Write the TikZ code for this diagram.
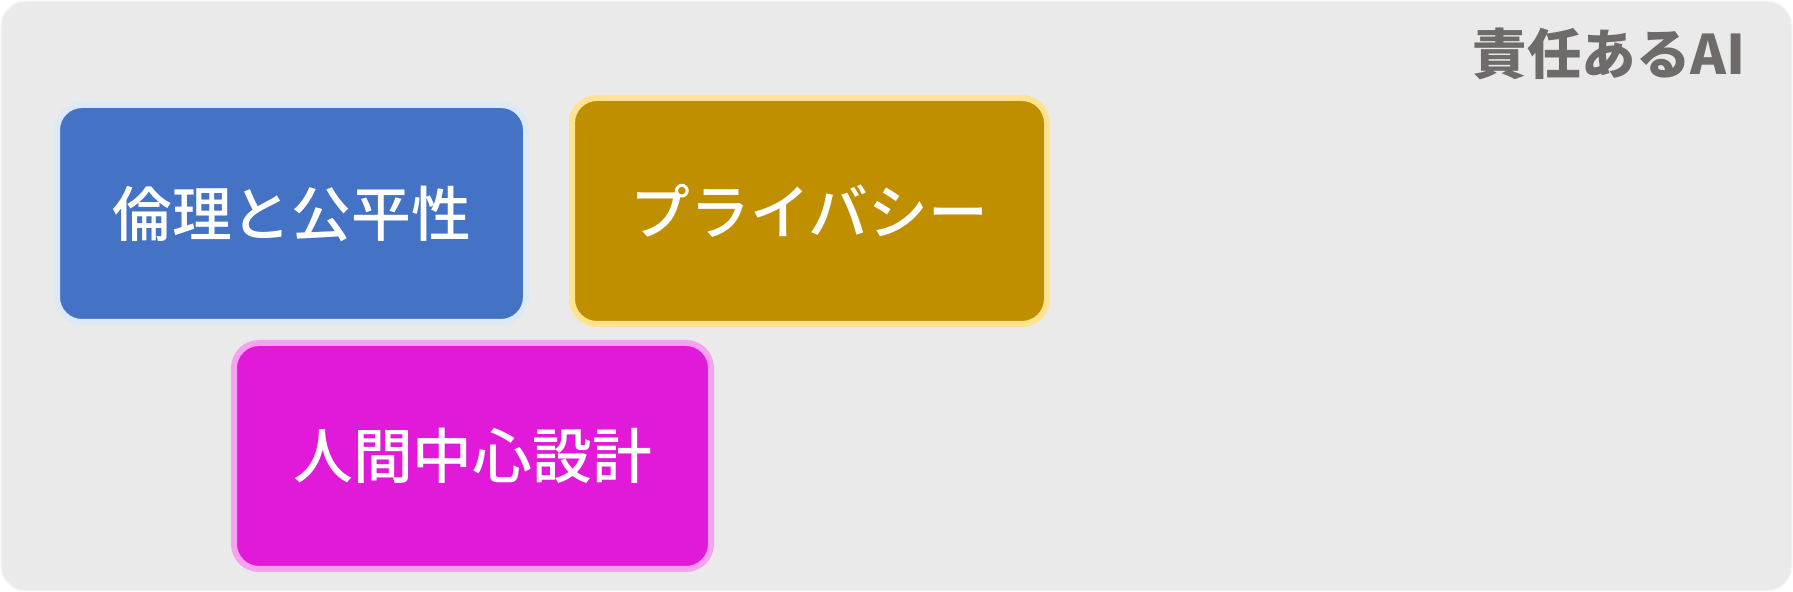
\documentclass[tikz,border=0pt]{standalone}
\usepackage{fontspec}
\setmainfont{Noto Sans CJK JP}
\newfontfamily\boxfont{Noto Sans CJK JP Medium}
\usetikzlibrary{positioning}
\definecolor{canvas}{HTML}{EAEAEA}
\definecolor{ethicsblue}{HTML}{4472C4}
\definecolor{ethicsglow}{HTML}{DCEAF8}
\definecolor{privgold}{HTML}{BF8F00}
\definecolor{privglow}{HTML}{FFE38F}
\definecolor{humanpink}{HTML}{E01AD8}
\definecolor{humanglow}{HTML}{F7A2F0}
\definecolor{titlegray}{HTML}{6E6B6A}

\begin{document}
\begin{tikzpicture}
    \tikzstyle{topic}=[rectangle, rounded corners=0.25cm, line width=0.6mm, text=white, font=\boxfont\fontsize{17}{20}\selectfont]
    \tikzstyle{ethics}=[topic, fill=ethicsblue, draw=ethicsglow, minimum width=4.69cm, minimum height=2.17cm]
    \tikzstyle{privacy}=[topic, fill=privgold, draw=privglow, minimum width=4.75cm, minimum height=2.26cm]
    \tikzstyle{human}=[topic, fill=humanpink, draw=humanglow, minimum width=4.77cm, minimum height=2.26cm]
    \useasboundingbox (0,0) rectangle (17.93,5.92);
    \draw[fill=canvas, draw=white!60!canvas, rounded corners=0.25cm] (0.01,0.01) rectangle (17.92,5.91);
    \node[anchor=east, text=titlegray, font=\fontsize{15.5}{18}\selectfont\bfseries] (title) at (17.58,5.38) {責任あるAI};
    \node[ethics] (ethics) at (2.915,3.785) {倫理と公平性};
    \node[privacy] (privacy) at (8.095,3.81) {プライバシー};
    \node[human] (human) at (4.725,1.36) {人間中心設計};
\end{tikzpicture}
\end{document}
